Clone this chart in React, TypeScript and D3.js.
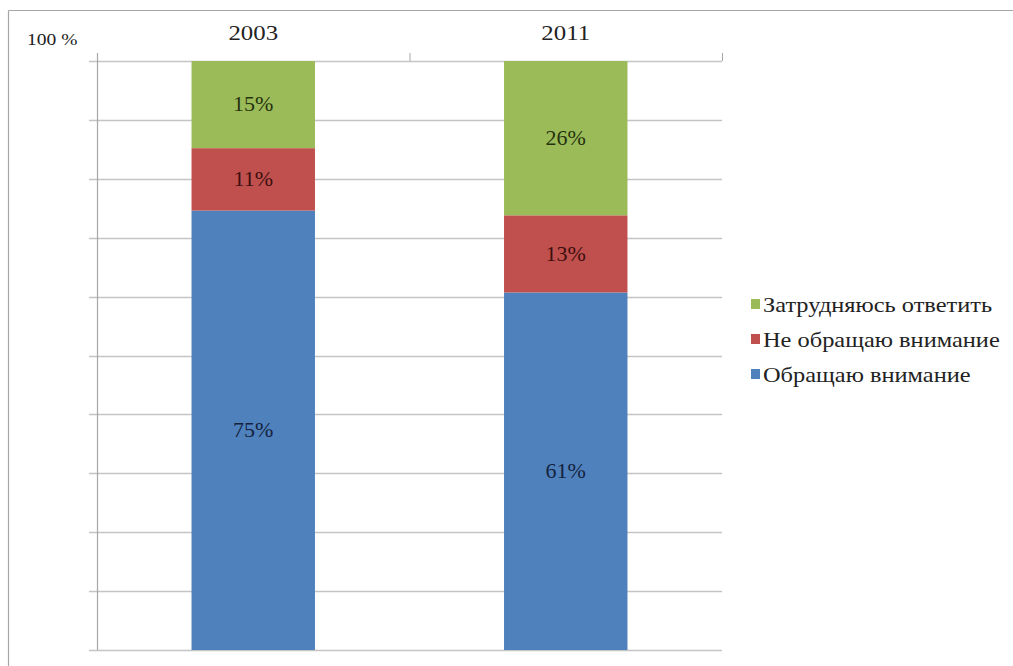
import React from "react";
import * as d3 from "d3";

const categories = ["2003", "2011"];
const seriesNames = ["Обращаю внимание", "Не обращаю внимание", "Затрудняюсь ответить"];
const seriesColors = ["#4f81bd", "#c0504d", "#9bbb59"];
const labelColors = ["#14233d", "#3d0f0f", "#26330f"];
const attention = [74.6, 60.7];
const noAttention = [10.6, 13.1];
const hardToSay = [14.8, 26.2];
const yTicks = [0, 10, 20, 30, 40, 50, 60, 70, 80, 90, 100];
const topLabel = "100 %";

const W = 1013;
const H = 666;
const M = { left: 97, right: 722, top: 61, bottom: 650 };
const FONT = '"Times New Roman", "Liberation Serif", "DejaVu Serif", serif';

export default function App() {
  const rows = categories.map((c, i) => ({
    cat: c,
    a: attention[i],
    n: noAttention[i],
    h: hardToSay[i],
  }));
  const keys = ["a", "n", "h"];
  const stacked = d3.stack<any>().keys(keys)(rows);

  const x = d3.scaleBand().domain(categories).range([M.left, M.right]).padding(0);
  const y = d3.scaleLinear().domain([0, 100]).range([M.bottom, M.top]).clamp(true);
  const barW = x.bandwidth() * 0.395;
  const fmt = (v: number) => `${Math.round(v)}%`;

  const bounds = [M.left, ...categories.map((c) => (x(c) as number) + x.bandwidth())];
  const ts = { fontFamily: FONT };

  return (
    <svg
      width={W}
      height={H}
      style={{ position: "absolute", left: 0, top: 0, background: "#fff", fontFamily: FONT }}
    >
      <line x1={8.5} x2={W} y1={10.5} y2={10.5} stroke="#a6a6a6" strokeWidth={1.2} />
      <line x1={8.5} x2={8.5} y1={10.5} y2={H} stroke="#a6a6a6" strokeWidth={1.2} />

      {yTicks.map((t) => (
        <line
          key={t}
          x1={M.left - 8}
          x2={M.right}
          y1={Math.round(y(t)) + 0.5}
          y2={Math.round(y(t)) + 0.5}
          stroke="#c4c4c4"
          strokeWidth={1.3}
        />
      ))}

      <line x1={M.left + 0.5} x2={M.left + 0.5} y1={M.top - 8} y2={M.bottom} stroke="#a6a6a6" strokeWidth={1.2} />
      {bounds.map((b, i) => (
        <line key={i} x1={b + 0.5} x2={b + 0.5} y1={M.top - 8} y2={M.top} stroke="#a6a6a6" strokeWidth={1} />
      ))}

      {stacked.map((s, si) => (
        <g key={si}>
          {s.map((d, i) => {
            const cx = (x(categories[i]) as number) + x.bandwidth() / 2;
            const y0 = y(d[0]);
            const y1 = y(d[1]);
            return (
              <rect
                key={i}
                x={cx - barW / 2}
                y={y1}
                width={barW}
                height={Math.max(0, y0 - y1)}
                fill={seriesColors[si]}
              />
            );
          })}
        </g>
      ))}

      {stacked.map((s, si) => (
        <g key={"l" + si}>
          {s.map((d, i) => {
            const cx = (x(categories[i]) as number) + x.bandwidth() / 2;
            const cy = (y(d[0]) + y(d[1])) / 2;
            return (
              <text
                key={i}
                transform={`translate(${cx},${cy}) scale(1.1,1)`}
                textAnchor="middle"
                dominantBaseline="central"
                fontSize={20}
                fill={labelColors[si]}
                style={ts}
              >
                {fmt(d[1] - d[0])}
              </text>
            );
          })}
        </g>
      ))}

      {categories.map((c) => (
        <text
          key={c}
          transform={`translate(${(x(c) as number) + x.bandwidth() / 2},40) scale(1.13,1)`}
          textAnchor="middle"
          fontSize={22}
          fill="#222"
          style={ts}
        >
          {c}
        </text>
      ))}

      <text transform="translate(27,45) scale(1.15,1)" fontSize={17} fill="#222" style={ts}>
        {topLabel}
      </text>

      {[2, 1, 0].map((si, j) => (
        <g key={si} transform={`translate(751, ${305 + j * 35})`}>
          <rect x={0} y={-6} width={9} height={10} fill={seriesColors[si]} />
          <text
            transform="translate(12,0) scale(1.22,1)"
            dominantBaseline="central"
            fontSize={20}
            fill="#222"
            style={ts}
          >
            {seriesNames[si]}
          </text>
        </g>
      ))}
    </svg>
  );
}
